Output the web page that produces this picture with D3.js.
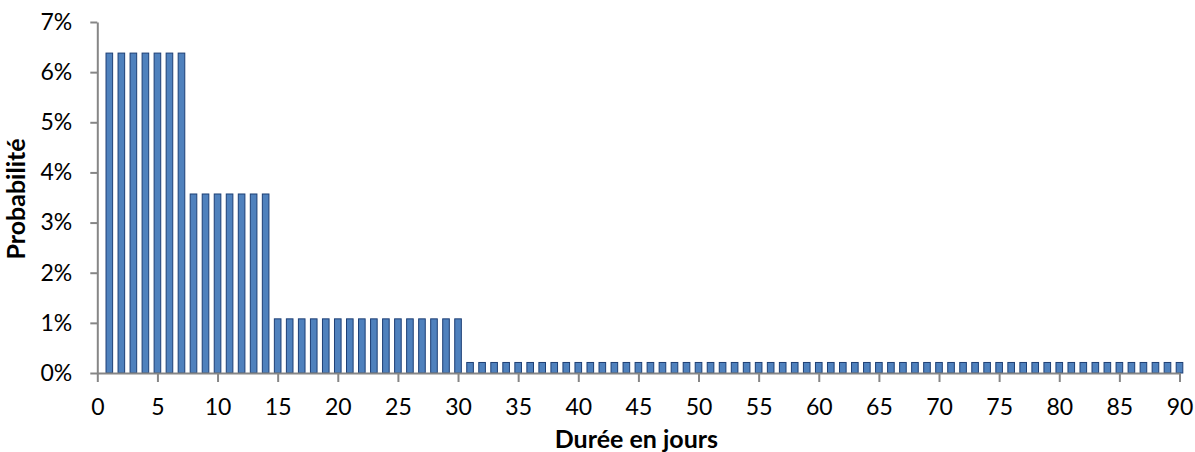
<!DOCTYPE html>
<html><head><meta charset="utf-8">
<script src="https://cdn.jsdelivr.net/npm/d3@7"></script>
<style>
html,body{margin:0;padding:0;background:#fff;}
svg text{font-family:Lato,"Open Sans",sans-serif;fill:#000;}
</style></head>
<body><svg id="c" width="1195" height="452"></svg>
<script>
const days = [1,2,3,4,5,6,7,8,9,10,11,12,13,14,15,16,17,18,19,20,21,22,23,24,25,26,27,28,29,30,
31,32,33,34,35,36,37,38,39,40,41,42,43,44,45,46,47,48,49,50,51,52,53,54,55,56,57,58,59,60,
61,62,63,64,65,66,67,68,69,70,71,72,73,74,75,76,77,78,79,80,81,82,83,84,85,86,87,88,89,90];
const probabilities = [
0.0638,0.0638,0.0638,0.0638,0.0638,0.0638,0.0638,
0.0357,0.0357,0.0357,0.0357,0.0357,0.0357,0.0357,
0.0108,0.0108,0.0108,0.0108,0.0108,0.0108,0.0108,0.0108,0.0108,0.0108,0.0108,0.0108,0.0108,0.0108,0.0108,0.0108,
0.0021,0.0021,0.0021,0.0021,0.0021,0.0021,0.0021,0.0021,0.0021,0.0021,
0.0021,0.0021,0.0021,0.0021,0.0021,0.0021,0.0021,0.0021,0.0021,0.0021,
0.0021,0.0021,0.0021,0.0021,0.0021,0.0021,0.0021,0.0021,0.0021,0.0021,
0.0021,0.0021,0.0021,0.0021,0.0021,0.0021,0.0021,0.0021,0.0021,0.0021,
0.0021,0.0021,0.0021,0.0021,0.0021,0.0021,0.0021,0.0021,0.0021,0.0021,
0.0021,0.0021,0.0021,0.0021,0.0021,0.0021,0.0021,0.0021,0.0021,0.0021];
const xTicks = [0,5,10,15,20,25,30,35,40,45,50,55,60,65,70,75,80,85,90];
const yTicks = [0,0.01,0.02,0.03,0.04,0.05,0.06,0.07];
const xTitle = "Durée en jours";
const yTitle = "Probabilité";

const svg = d3.select("#c");
const x = d3.scaleLinear().domain([0,90]).range([97.3,1179.5]);
const y = d3.scaleLinear().domain([0,0.07]).range([373,22]);
const axisColor = "#868686";
const bw = (x(1)-x(0))*0.55;

const bars = svg.append("g");
bars.selectAll("rect").data(days).join("rect")
  .attr("x",(d)=>x(d)-bw/2)
  .attr("y",(d,i)=>y(probabilities[i]))
  .attr("width",bw)
  .attr("height",(d,i)=>y(0)-y(probabilities[i]))
  .attr("fill","#4f81bd")
  .attr("stroke","#1d3f75")
  .attr("stroke-width",1);

const gy = svg.append("g").attr("transform",`translate(${x(0)},0)`)
  .call(d3.axisLeft(y).tickValues(yTicks).tickFormat(d3.format(".0%")).tickSize(7).tickSizeOuter(0).tickPadding(18));
const gx = svg.append("g").attr("transform",`translate(0,${y(0)})`)
  .call(d3.axisBottom(x).tickValues(xTicks).tickSize(9).tickSizeOuter(0).tickPadding(17));
[gy,gx].forEach(g=>{
  g.select(".domain").attr("stroke",axisColor).attr("stroke-width",2);
  g.selectAll(".tick line").attr("stroke",axisColor).attr("stroke-width",2);
  g.selectAll(".tick text").attr("font-family","Lato, 'Open Sans', sans-serif").attr("font-size",23).attr("fill","#000");
});

svg.append("text").attr("x",(x(0)+x(90))/2 - 2).attr("y",448)
  .attr("text-anchor","middle").attr("font-size",25).attr("font-weight","bold").text(xTitle);
svg.append("text").attr("transform","translate(25,199) rotate(-90)")
  .attr("text-anchor","middle").attr("font-size",25).attr("font-weight","bold").text(yTitle);
</script></body></html>
